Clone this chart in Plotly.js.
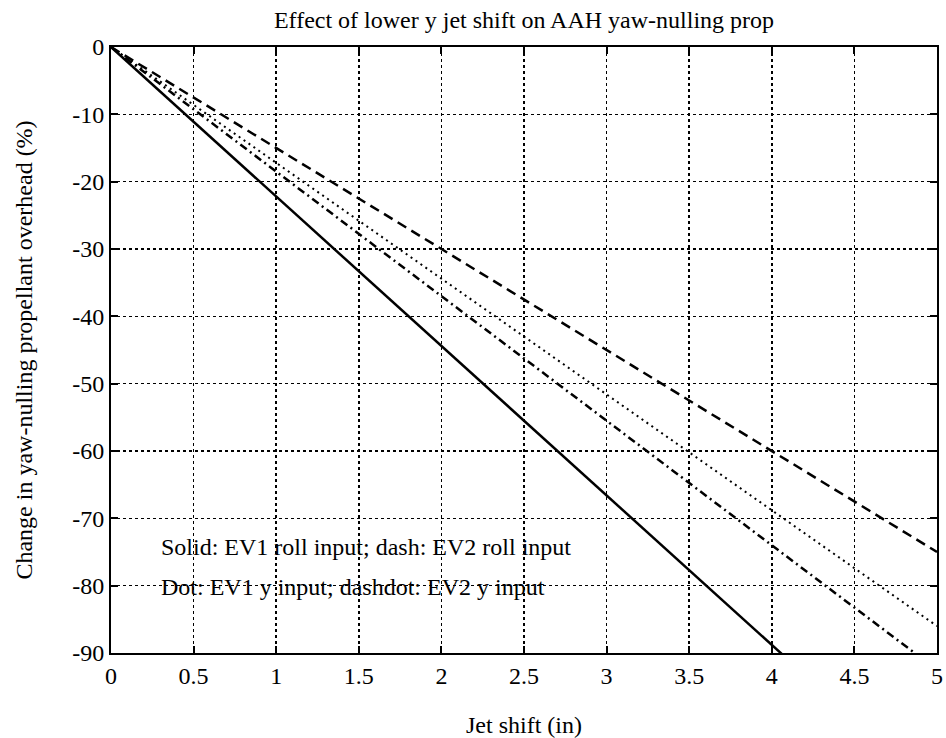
<!DOCTYPE html>
<html>
<head>
<meta charset="utf-8">
<script src="https://cdn.plot.ly/plotly-3.0.1.min.js"></script>
<style>
  html, body { margin: 0; padding: 0; background: #fff; }
  #chart { width: 946px; height: 738px; }
</style>
</head>
<body>
<div id="chart"></div>
<script>
// Jet shift (in)
const jetShift = [0, 0.5, 1, 1.5, 2, 2.5, 3, 3.5, 4, 4.5, 5];

// Change in yaw-nulling propellant overhead (%)
const ev1Roll = [0, -11.1, -22.2, -33.3, -44.4, -55.5, -66.6, -77.7, -88.8, -99.9, -111];
const ev2Roll = [0, -7.5, -15, -22.5, -30, -37.5, -45, -52.5, -60, -67.5, -75];
const ev1Y    = [0, -8.6, -17.2, -25.8, -34.4, -43, -51.6, -60.2, -68.8, -77.4, -86];
const ev2Y    = [0, -9.25, -18.5, -27.75, -37, -46.25, -55.5, -64.75, -74, -83.25, -92.5];

const xTickVals = [0, 0.5, 1, 1.5, 2, 2.5, 3, 3.5, 4, 4.5, 5];
const xTickText = ['0', '0.5', '1', '1.5', '2', '2.5', '3', '3.5', '4', '4.5', '5'];
const yTickVals = [0, -10, -20, -30, -40, -50, -60, -70, -80, -90];
const yTickText = ['0', '-10', '-20', '-30', '-40', '-50', '-60', '-70', '-80', '-90'];

const noteLines = [
  'Solid: EV1 roll input; dash: EV2 roll input',
  'Dot: EV1 y input; dashdot: EV2 y input'
];

const FONT = 'Liberation Serif, Times New Roman, serif';
const FS = 24;

const traces = [
  { x: jetShift, y: ev1Roll, mode: 'lines', line: { color: '#000', width: 2.5, dash: 'solid' } },
  { x: jetShift, y: ev2Roll, mode: 'lines', line: { color: '#000', width: 2.5, dash: '10px,6px' } },
  { x: jetShift, y: ev1Y,    mode: 'lines', line: { color: '#000', width: 2, dash: '2px,4px' } },
  { x: jetShift, y: ev2Y,    mode: 'lines', line: { color: '#000', width: 2.5, dash: '8px,4px,2px,4px' } }
];

const axisCommon = {
  showline: true,
  linecolor: '#000',
  linewidth: 2,
  mirror: 'ticks',
  ticks: 'inside',
  ticklen: 7,
  tickwidth: 2,
  tickcolor: '#000',
  showgrid: true,
  gridcolor: '#000',
  gridwidth: 1.5,
  griddash: 'dot',
  zeroline: false,
  tickmode: 'array',
  tickfont: { family: FONT, size: FS, color: '#000' }
};

const layout = {
  width: 946,
  height: 738,
  paper_bgcolor: '#fff',
  plot_bgcolor: '#fff',
  showlegend: false,
  margin: { l: 111, r: 9, t: 47, b: 85 },
  font: { family: FONT, color: '#000' },
  title: {
    text: 'Effect of lower y jet shift on AAH yaw-nulling prop',
    font: { family: FONT, size: FS, color: '#000' },
    xref: 'paper', x: 0.5, xanchor: 'center',
    yref: 'container', y: 1 - 20 / 738, yanchor: 'middle'
  },
  xaxis: Object.assign({}, axisCommon, {
    range: [0, 5],
    tickvals: xTickVals,
    ticktext: xTickText,
    title: { text: 'Jet shift (in)', font: { family: FONT, size: FS, color: '#000' }, standoff: 28 }
  }),
  yaxis: Object.assign({}, axisCommon, {
    range: [-90, 0],
    tickvals: yTickVals,
    ticktext: yTickText,
    title: { text: 'Change in yaw-nulling propellant overhead (%)', font: { family: FONT, size: FS, color: '#000' }, standoff: 33 }
  }),
  annotations: [
    { text: noteLines[0], x: 0.29, y: -74.3, xref: 'x', yref: 'y', xanchor: 'left', yanchor: 'middle',
      showarrow: false, font: { family: FONT, size: FS, color: '#000' } },
    { text: noteLines[1], x: 0.29, y: -80.2, xref: 'x', yref: 'y', xanchor: 'left', yanchor: 'middle',
      showarrow: false, font: { family: FONT, size: FS, color: '#000' } }
  ]
};

Plotly.newPlot('chart', traces, layout, { displayModeBar: false, staticPlot: true });
</script>
</body>
</html>
